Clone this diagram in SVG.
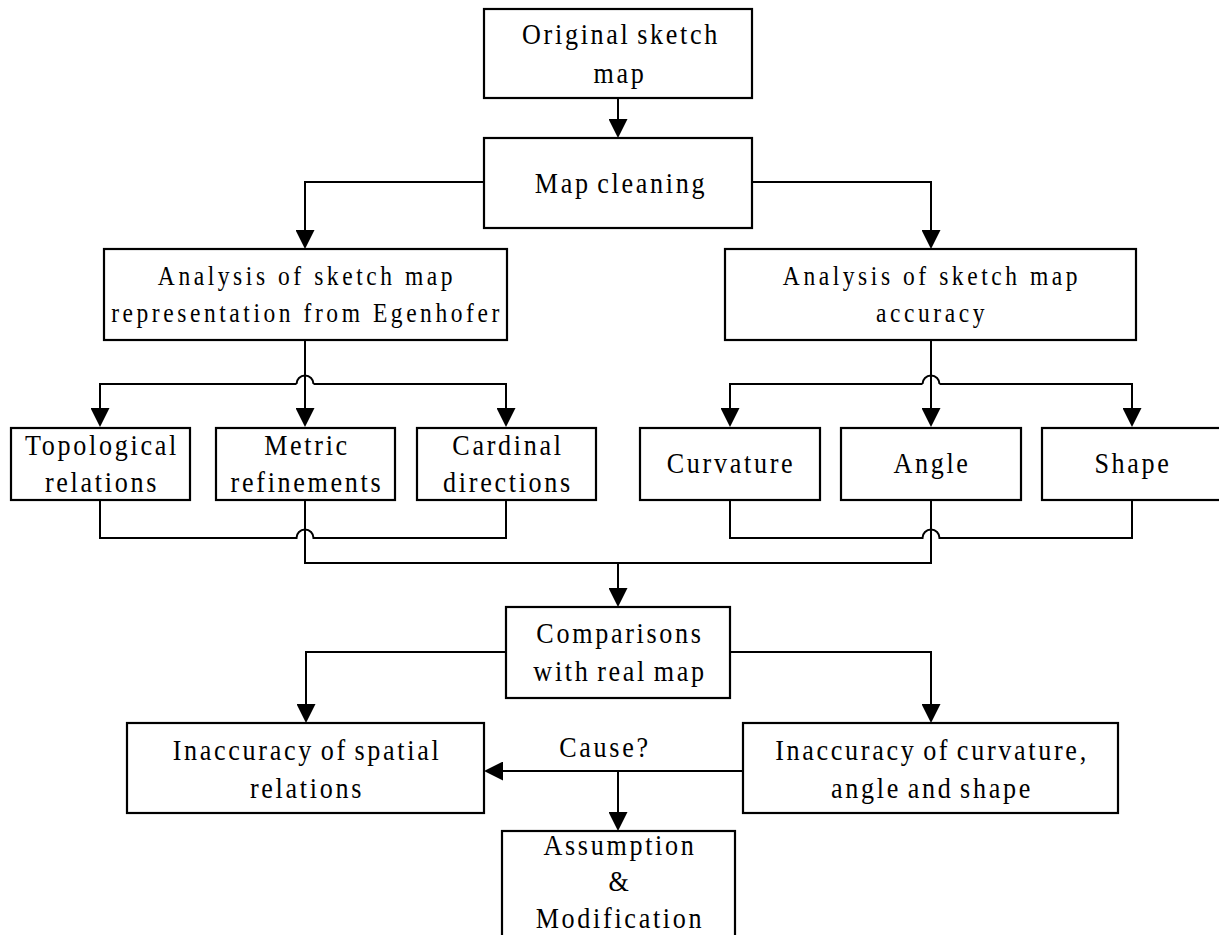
<svg xmlns="http://www.w3.org/2000/svg" width="1219" height="935" viewBox="0 0 1219 935">
  <style>
    .box { fill: #ffffff; stroke: #000000; stroke-width: 2.2; }
    /* condensed serif labels: glyphs narrowed via scale(0.87,1), widened tracking */
    .lbl { font-family: "Liberation Serif", "Times New Roman", serif; font-size: 30px; letter-spacing: 3.1px; word-spacing: -3px; fill: #000000; text-anchor: middle; }
    .ana { font-size: 27px; letter-spacing: 4.1px; word-spacing: 0px; }
    .wire { fill: none; stroke: #000000; stroke-width: 2; }
    .arrow { marker-end: url(#head); }
  </style>
  <defs>
    <marker id="head" markerUnits="userSpaceOnUse" viewBox="0 0 19 19" refX="17" refY="9.5" markerWidth="19" markerHeight="19" orient="auto">
      <path d="M0,0 L19,9.5 L0,19 z" fill="#000000"/>
    </marker>
  </defs>
  <rect width="1219" height="935" fill="#ffffff"/>

  <g id="connectors">
    <path class="wire arrow" d="M618,98 V136"/>
    <path class="wire arrow" d="M484,182 H305 V247"/>
    <path class="wire arrow" d="M752,182 H931 V247"/>

    <!-- left fan-out -->
    <path class="wire arrow" d="M305,340 V425"/>
    <path class="wire arrow" d="M296.5,384 H100 V425"/>
    <path class="wire arrow" d="M313.5,384 H506 V425"/>
    <path class="wire" d="M296.5,384 A8.5,8.5 0 0 1 313.5,384"/>

    <!-- right fan-out -->
    <path class="wire arrow" d="M931,340 V425"/>
    <path class="wire arrow" d="M922.5,384 H730 V425"/>
    <path class="wire arrow" d="M939.5,384 H1132 V425"/>
    <path class="wire" d="M922.5,384 A8.5,8.5 0 0 1 939.5,384"/>

    <!-- merge lines -->
    <path class="wire" d="M100,500 V538 H296.5 A8.5,8.5 0 0 1 313.5,538 H506 V500"/>
    <path class="wire" d="M730,500 V538 H922.5 A8.5,8.5 0 0 1 939.5,538 H1132 V500"/>
    <path class="wire" d="M305,500 V563 H931 V500"/>
    <path class="wire arrow" d="M618,563 V605"/>

    <!-- comparison outcomes -->
    <path class="wire arrow" d="M506,652 H306 V721"/>
    <path class="wire arrow" d="M730,652 H931 V721"/>

    <!-- cause -->
    <path class="wire arrow" d="M743,771 H486"/>
    <path class="wire arrow" d="M618,771 V829"/>
    <text class="lbl" transform="translate(605,757) scale(0.87,1)">Cause?</text>
  </g>

  <g id="original">
    <rect class="box" x="484" y="9" width="268" height="89"/>
    <text class="lbl" transform="translate(621,44) scale(0.87,1)">Original sketch</text>
    <text class="lbl" transform="translate(620,83) scale(0.87,1)">map</text>
  </g>

  <g id="cleaning">
    <rect class="box" x="484" y="138" width="268" height="90"/>
    <text class="lbl" transform="translate(621,193) scale(0.87,1)">Map cleaning</text>
  </g>

  <g id="analysis-egenhofer">
    <rect class="box" x="104" y="249" width="403" height="91"/>
    <text class="lbl ana" transform="translate(307,285) scale(0.87,1)">Analysis of sketch map</text>
    <text class="lbl ana" transform="translate(307,322) scale(0.87,1)">representation from Egenhofer</text>
  </g>

  <g id="analysis-accuracy">
    <rect class="box" x="725" y="249" width="411" height="91"/>
    <text class="lbl ana" transform="translate(932,285) scale(0.87,1)">Analysis of sketch map</text>
    <text class="lbl ana" transform="translate(932,322) scale(0.87,1)">accuracy</text>
  </g>

  <g id="topological">
    <rect class="box" x="11" y="428" width="179" height="72"/>
    <text class="lbl" transform="translate(102,455) scale(0.87,1)">Topological</text>
    <text class="lbl" transform="translate(102,492) scale(0.87,1)">relations</text>
  </g>

  <g id="metric">
    <rect class="box" x="216" y="428" width="179" height="72"/>
    <text class="lbl" transform="translate(307,455) scale(0.87,1)">Metric</text>
    <text class="lbl" transform="translate(307,492) scale(0.87,1)">refinements</text>
  </g>

  <g id="cardinal">
    <rect class="box" x="417" y="428" width="179" height="72"/>
    <text class="lbl" transform="translate(508,455) scale(0.87,1)">Cardinal</text>
    <text class="lbl" transform="translate(508,492) scale(0.87,1)">directions</text>
  </g>

  <g id="curvature">
    <rect class="box" x="640" y="428" width="180" height="72"/>
    <text class="lbl" transform="translate(731,473) scale(0.87,1)">Curvature</text>
  </g>

  <g id="angle">
    <rect class="box" x="841" y="428" width="180" height="72"/>
    <text class="lbl" transform="translate(932,473) scale(0.87,1)">Angle</text>
  </g>

  <g id="shape">
    <rect class="box" x="1042" y="428" width="180" height="72"/>
    <text class="lbl" transform="translate(1133,473) scale(0.87,1)">Shape</text>
  </g>

  <g id="comparisons">
    <rect class="box" x="506" y="607" width="224" height="91"/>
    <text class="lbl" transform="translate(620,643) scale(0.87,1)">Comparisons</text>
    <text class="lbl" transform="translate(620,681) scale(0.87,1)">with real map</text>
  </g>

  <g id="inaccuracy-spatial">
    <rect class="box" x="127" y="723" width="357" height="90"/>
    <text class="lbl" transform="translate(307,760) scale(0.87,1)">Inaccuracy of spatial</text>
    <text class="lbl" transform="translate(307,798) scale(0.87,1)">relations</text>
  </g>

  <g id="inaccuracy-geometry">
    <rect class="box" x="743" y="723" width="375" height="90"/>
    <text class="lbl" transform="translate(932,760) scale(0.87,1)">Inaccuracy of curvature,</text>
    <text class="lbl" transform="translate(932,798) scale(0.87,1)">angle and shape</text>
  </g>

  <g id="assumption">
    <rect class="box" x="502" y="831" width="233" height="112"/>
    <text class="lbl" transform="translate(620,855) scale(0.87,1)">Assumption</text>
    <text class="lbl" transform="translate(620,891) scale(0.87,1)">&amp;</text>
    <text class="lbl" transform="translate(620,928) scale(0.87,1)">Modification</text>
  </g>
</svg>
